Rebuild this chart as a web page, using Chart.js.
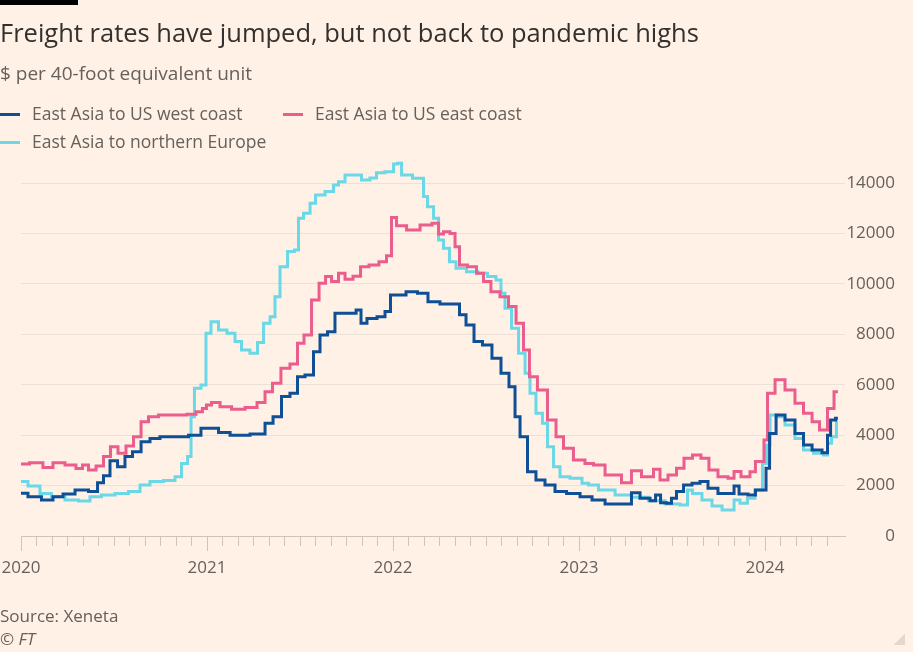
<!DOCTYPE html>
<html>
<head>
<meta charset="utf-8">
<script src="https://cdn.jsdelivr.net/npm/chart.js@4"></script>
<style>
  html, body { margin: 0; padding: 0; background: #fff1e5; }
  body { width: 913px; height: 652px; position: relative; overflow: hidden; font-family: "Open Sans", sans-serif; }
  #chart { position: absolute; left: 0; top: 0; }
  .txt { position: absolute; left: 0; white-space: nowrap; }
  #bar { position: absolute; left: 0; top: 0; width: 78px; height: 5px; background: #000; }
  #title { top: 17px; font-size: 25.5px; line-height: 30px; color: #33302e; }
  #subtitle { top: 61px; font-size: 19px; line-height: 24px; color: #66605c; }
  .legend { position: absolute; font-size: 17.5px; line-height: 20px; color: #66605c; white-space: nowrap; }
  .legend i { display: inline-block; width: 20px; height: 3px; vertical-align: middle; margin-right: 12px; position: relative; top: -1px; }
  #source { top: 606px; font-size: 17px; line-height: 20px; color: #66605c; }
  #ft { top: 629px; font-size: 17px; line-height: 20px; color: #66605c; font-style: italic; }
  #grip { position: absolute; left: 892px; top: 632px; width: 13px; height: 13px;
          background: linear-gradient(135deg, transparent 55%, #e2d8cf 55%); }
</style>
</head>
<body>
<canvas id="chart" width="913" height="652"></canvas>
<div id="bar"></div>
<div class="txt" id="title">Freight rates have jumped, but not back to pandemic highs</div>
<div class="txt" id="subtitle">$ per 40-foot equivalent unit</div>
<div id="legend"></div>
<div class="txt" id="source">Source: Xeneta</div>
<div class="txt" id="ft">© FT</div>
<div id="grip"></div>
<script>
// series names and colours
const seriesNames = ["East Asia to US west coast", "East Asia to US east coast", "East Asia to northern Europe"];
const seriesColors = ["#0e4f96", "#ea5d8c", "#6ad8e6"];

// x values are decimal years
const westX = [2020.0, 2020.075, 2020.145, 2020.199, 2020.253, 2020.328, 2020.398, 2020.425, 2020.462, 2020.495,
  2020.543, 2020.575, 2020.624, 2020.667, 2020.72, 2020.774, 2020.866, 2020.935, 2021.0, 2021.043,
  2021.081, 2021.167, 2021.296, 2021.328, 2021.382, 2021.419, 2021.473, 2021.5, 2021.554, 2021.591,
  2021.624, 2021.672, 2021.704, 2021.78, 2021.823, 2021.833, 2021.887, 2021.941, 2021.973, 2022.0,
  2022.038, 2022.102, 2022.161, 2022.215, 2022.29, 2022.344, 2022.371, 2022.414, 2022.457, 2022.505,
  2022.559, 2022.602, 2022.645, 2022.667, 2022.699, 2022.747, 2022.79, 2022.844, 2022.898, 2022.968,
  2023.043, 2023.097, 2023.183, 2023.274, 2023.29, 2023.366, 2023.398, 2023.425, 2023.452, 2023.489,
  2023.505, 2023.543, 2023.581, 2023.634, 2023.667, 2023.72, 2023.774, 2023.828, 2023.839, 2023.882,
  2023.935, 2023.962, 2024.0, 2024.011, 2024.038, 2024.081, 2024.134, 2024.188, 2024.226, 2024.28,
  2024.333, 2024.339, 2024.366, 2024.392];
const westY = [1700, 1560, 1430, 1560, 1670, 1820, 1760, 2110, 2390, 2980,
  2750, 3150, 3340, 3740, 3870, 3940, 3940, 4000, 4270, 4270,
  4100, 4000, 4050, 4470, 4730, 5530, 5660, 6320, 6390, 7310,
  7970, 8100, 8830, 8830, 8960, 8440, 8630, 8700, 8900, 9560,
  9560, 9690, 9630, 9290, 9200, 9200, 8770, 8370, 7710, 7580,
  7050, 6450, 5920, 4730, 3940, 2550, 2220, 2020, 1760, 1690,
  1560, 1430, 1270, 1270, 1720, 1500, 1400, 1630, 1320, 1300,
  1500, 1760, 2020, 2090, 2160, 1890, 1690, 1690, 1980, 1670,
  1630, 1820, 1820, 2690, 4070, 4800, 4600, 4070, 3610, 3410,
  3300, 4000, 4600, 4670];

const eastX = [2020.0, 2020.091, 2020.145, 2020.199, 2020.274, 2020.317, 2020.344, 2020.382, 2020.425, 2020.462,
  2020.5, 2020.543, 2020.586, 2020.624, 2020.667, 2020.704, 2020.774, 2020.866, 2020.919, 2020.962,
  2020.989, 2021.005, 2021.043, 2021.097, 2021.167, 2021.242, 2021.296, 2021.328, 2021.376, 2021.419,
  2021.473, 2021.5, 2021.543, 2021.581, 2021.624, 2021.651, 2021.688, 2021.726, 2021.758, 2021.812,
  2021.839, 2021.903, 2021.946, 2021.984, 2022.0, 2022.038, 2022.108, 2022.183, 2022.237, 2022.253,
  2022.29, 2022.323, 2022.344, 2022.371, 2022.43, 2022.468, 2022.505, 2022.548, 2022.602, 2022.64,
  2022.683, 2022.72, 2022.747, 2022.806, 2022.855, 2022.898, 2022.935, 2023.005, 2023.059, 2023.097,
  2023.183, 2023.274, 2023.29, 2023.382, 2023.419, 2023.452, 2023.505, 2023.543, 2023.586, 2023.634,
  2023.677, 2023.72, 2023.774, 2023.828, 2023.839, 2023.903, 2023.935, 2023.962, 2023.989, 2024.0,
  2024.027, 2024.081, 2024.134, 2024.188, 2024.226, 2024.28, 2024.306, 2024.333, 2024.339, 2024.366,
  2024.376, 2024.392];
const eastY = [2860, 2910, 2720, 2910, 2820, 2680, 2820, 2620, 2780, 3150,
  3540, 3280, 3570, 3940, 4530, 4730, 4800, 4800, 4830, 4930,
  5060, 5200, 5290, 5130, 5030, 5100, 5290, 5720, 6060, 6650,
  6820, 7640, 7970, 9360, 10020, 10290, 10090, 10420, 10180, 10300,
  10680, 10750, 10880, 11110, 12630, 12300, 12140, 12330, 12400, 11980,
  12070, 12000, 11470, 10750, 10680, 10420, 10090, 9690, 9490, 9100,
  8440, 7380, 6320, 5790, 4600, 3940, 3480, 3010, 2880, 2820,
  2420, 2110, 2590, 2350, 2650, 2220, 2420, 2690, 3080, 3210,
  3080, 2620, 2350, 2290, 2560, 2350, 2550, 2950, 2950, 3810,
  5660, 6200, 5790, 5260, 4870, 4530, 4200, 4200, 5060, 5060,
  5720, 5720];

const europeX = [2020.0, 2020.075, 2020.129, 2020.199, 2020.274, 2020.344, 2020.398, 2020.468, 2020.543, 2020.613,
  2020.667, 2020.72, 2020.812, 2020.844, 2020.882, 2020.909, 2020.919, 2020.946, 2020.989, 2021.0,
  2021.043, 2021.081, 2021.134, 2021.167, 2021.204, 2021.258, 2021.285, 2021.323, 2021.355, 2021.376,
  2021.409, 2021.457, 2021.484, 2021.5, 2021.538, 2021.57, 2021.597, 2021.672, 2021.688, 2021.726,
  2021.758, 2021.812, 2021.849, 2021.903, 2021.919, 2021.995, 2022.011, 2022.038, 2022.054, 2022.156,
  2022.172, 2022.199, 2022.237, 2022.253, 2022.29, 2022.317, 2022.36, 2022.43, 2022.484, 2022.532,
  2022.575, 2022.586, 2022.618, 2022.656, 2022.694, 2022.726, 2022.747, 2022.79, 2022.817, 2022.844,
  2022.882, 2022.914, 2022.989, 2023.043, 2023.059, 2023.151, 2023.237, 2023.328, 2023.419, 2023.505,
  2023.581, 2023.586, 2023.634, 2023.688, 2023.742, 2023.796, 2023.828, 2023.839, 2023.892, 2023.919,
  2023.973, 2024.0, 2024.016, 2024.038, 2024.081, 2024.134, 2024.188, 2024.226, 2024.296, 2024.333,
  2024.339, 2024.376, 2024.392];
const europeY = [2160, 1980, 1690, 1560, 1430, 1390, 1560, 1630, 1690, 1760,
  2020, 2160, 2200, 2350, 2880, 3150, 4730, 5860, 5990, 8040,
  8500, 8170, 8040, 7710, 7380, 7250, 7670, 8440, 8700, 9490,
  10680, 11280, 11340, 12600, 12800, 13200, 13520, 13660, 13920, 14050,
  14320, 14320, 14120, 14200, 14410, 14450, 14750, 14780, 14320, 14190,
  13460, 13060, 12600, 11740, 11410, 10880, 10620, 10480, 10420, 10290,
  10150, 9630, 9030, 8240, 7250, 6450, 5660, 4870, 4470, 3540,
  2750, 2350, 2290, 2090, 2020, 1820, 1630, 1540, 1400, 1270,
  1230, 1820, 1690, 1430, 1190, 1030, 1030, 1430, 1300, 1500,
  1820, 2880, 3610, 4800, 4730, 4400, 3870, 3410, 3280, 3210,
  3680, 3940, 4530];

const yearLabels = [2020, 2021, 2022, 2023, 2024];
const yTicks = [0, 2000, 4000, 6000, 8000, 10000, 12000, 14000];

function pairs(xs, ys) {
  return xs.map((x, i) => ({ x: x, y: ys[i] }));
}

// html legend, laid out like the original (two items, then one)
const legendPos = [[0, 103], [283, 103], [0, 131]];
const legendBox = document.getElementById("legend");
seriesNames.forEach((name, i) => {
  const el = document.createElement("div");
  el.className = "legend";
  el.style.left = legendPos[i][0] + "px";
  el.style.top = legendPos[i][1] + "px";
  el.innerHTML = '<i style="background:' + seriesColors[i] + '"></i>' + name;
  legendBox.appendChild(el);
});

const axisColor = "#cfc4ba";
const gridColor = "#ece1d7";

// longer tick marks at the start of each year
const yearTicks = {
  id: "yearTicks",
  afterDraw(chart) {
    const ctx = chart.ctx;
    const xs = chart.scales.x;
    ctx.save();
    ctx.strokeStyle = axisColor;
    ctx.lineWidth = 1;
    yearLabels.forEach((yr) => {
      const px = Math.round(xs.getPixelForValue(yr)) + 0.5;
      ctx.beginPath();
      ctx.moveTo(px, xs.top);
      ctx.lineTo(px, xs.top + 15);
      ctx.stroke();
    });
    ctx.restore();
  },
};

Chart.defaults.font.family = "'Open Sans', sans-serif";

const datasets = [
  { data: pairs(westX, westY) },
  { data: pairs(eastX, eastY) },
  { data: pairs(europeX, europeY) },
].map((d, i) => ({
  label: seriesNames[i],
  data: d.data,
  borderColor: seriesColors[i],
  backgroundColor: seriesColors[i],
  borderWidth: 3,
  pointRadius: 0,
  stepped: "middle",
  clip: false,
}));

new Chart(document.getElementById("chart"), {
  type: "line",
  data: { datasets: datasets },
  plugins: [yearTicks],
  options: {
    responsive: false,
    animation: false,
    layout: { padding: { top: 183, left: 21, right: 18, bottom: 72 } },
    plugins: {
      legend: { display: false },
      tooltip: { enabled: false },
    },
    scales: {
      x: {
        type: "linear",
        min: 2020,
        max: 2024.43,
        afterBuildTicks(scale) {
          // one tick per month, Jan 2020 to May 2024
          const t = [];
          for (let m = 0; m <= 52; m++) t.push({ value: 2020 + m / 12 });
          scale.ticks = t;
        },
        afterFit(scale) {
          scale.height = 44;
          scale.paddingLeft = 0;
          scale.paddingRight = 0;
        },
        grid: { drawOnChartArea: false, drawTicks: true, tickLength: 10, tickColor: axisColor },
        border: { display: true, color: axisColor, width: 1 },
        ticks: {
          autoSkip: false,
          maxRotation: 0,
          padding: 12,
          color: "#66605c",
          font: { size: 17 },
          callback: (v) => {
            const r = Math.round(v);
            return Math.abs(v - r) < 1e-6 && yearLabels.includes(r) ? String(r) : "";
          },
        },
      },
      y: {
        position: "right",
        min: 0,
        max: 14000,
        afterBuildTicks(scale) { scale.ticks = yTicks.map((v) => ({ value: v })); },
        afterFit(scale) { scale.width = 50; },
        grid: { color: gridColor, drawTicks: false },
        border: { display: false },
        ticks: {
          crossAlign: "far",
          padding: 4,
          color: "#66605c",
          font: { size: 17 },
          callback: (v) => String(v),
        },
      },
    },
  },
});
</script>
</body>
</html>
